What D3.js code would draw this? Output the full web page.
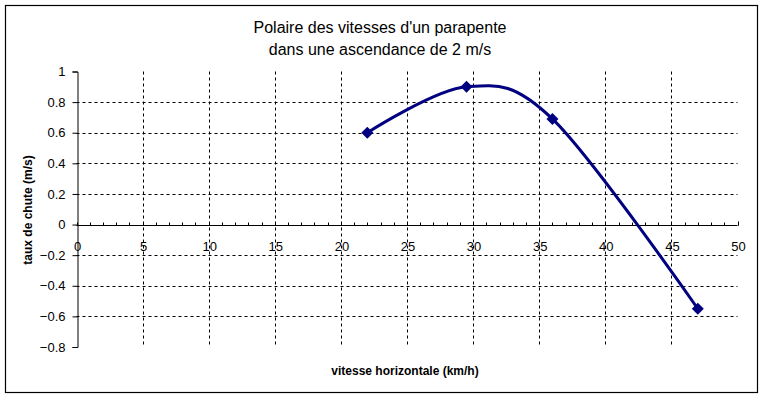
<!DOCTYPE html>
<html>
<head>
<meta charset="utf-8">
<script src="https://cdn.jsdelivr.net/npm/d3@7"></script>
<style>
  body { margin: 0; background: #fff; }
  text { font-family: "Liberation Sans", Arial, sans-serif; fill: #000; }
</style>
</head>
<body>
<svg id="chart" width="764" height="400"></svg>
<script>
// data
var vitesses = [22, 29.5, 36, 47]
var taux_chute = [0.6, 0.9, 0.69, -0.55]
var x_ticks = [0, 5, 10, 15, 20, 25, 30, 35, 40, 45, 50]
var y_ticks = [-0.8, -0.6, -0.4, -0.2, 0, 0.2, 0.4, 0.6, 0.8, 1]
var titre = ["Polaire des vitesses d'un parapente", "dans une ascendance de 2 m/s"]
var titre_x = "vitesse horizontale (km/h)"
var titre_y = "taux de chute (m/s)"

var svg = d3.select("#chart")

// outer frame
svg.append("rect")
    .attr("x", 5.5).attr("y", 5.5)
    .attr("width", 752).attr("height", 387)
    .attr("fill", "#fff").attr("stroke", "#000").attr("stroke-width", 1.2)

var x = d3.scaleLinear().domain([0, 50]).range([76.5, 737.5])
var y = d3.scaleLinear().domain([-0.8, 1]).range([347, 71.5])

var g_grid = svg.append("g")

// vertical gridlines (5..45)
g_grid.selectAll(".vg")
    .data(x_ticks.filter(function(d){ return d > 0 && d < 50 }))
    .enter().append("line")
    .attr("class", "vg")
    .attr("x1", function(d){ return Math.round(x(d)) + 0.5 })
    .attr("x2", function(d){ return Math.round(x(d)) + 0.5 })
    .attr("y1", y(1)).attr("y2", y(-0.8))
    .attr("stroke", "#000").attr("stroke-dasharray", "3,3")

// horizontal gridlines
g_grid.selectAll(".hg")
    .data(y_ticks.filter(function(d){ return d > -0.8 && d < 1 && d != 0 }))
    .enter().append("line")
    .attr("class", "hg")
    .attr("x1", x(0)).attr("x2", x(50))
    .attr("y1", function(d){ return Math.round(y(d)) + 0.5 })
    .attr("y2", function(d){ return Math.round(y(d)) + 0.5 })
    .attr("stroke", "#000").attr("stroke-dasharray", "3,3")

// y axis
var y_axis = d3.axisLeft(y).tickValues(y_ticks).tickSize(5).tickPadding(7)
    .tickFormat(function(d){ return d3.format("")(+d.toFixed(1)) })
var gy = svg.append("g")
    .attr("transform", "translate(" + (Math.round(x(0)) + 0.5) + ",0)")
    .call(y_axis)
gy.select(".domain").attr("stroke", "#000")
gy.selectAll("text").attr("font-size", 13).attr("font-family", "Liberation Sans, Arial, sans-serif")

// x axis crossing at y = 0
var y0 = Math.round(y(0)) + 0.5
var minor = d3.range(0, 51, 1)
svg.append("g").selectAll("line")
    .data(minor)
    .enter().append("line")
    .attr("x1", function(d){ return Math.round(x(d)) + 0.5 })
    .attr("x2", function(d){ return Math.round(x(d)) + 0.5 })
    .attr("y1", y0).attr("y2", y0 - 3)
    .attr("stroke", "#000")
svg.append("line")
    .attr("x1", x(0)).attr("x2", x(50))
    .attr("y1", y0).attr("y2", y0)
    .attr("stroke", "#000")
svg.append("line")
    .attr("x1", Math.round(x(50)) + 0.5).attr("x2", Math.round(x(50)) + 0.5)
    .attr("y1", y0 - 4).attr("y2", y0)
    .attr("stroke", "#000")

svg.append("g").selectAll("text")
    .data(x_ticks)
    .enter().append("text")
    .attr("x", function(d){ return x(d) + 1 })
    .attr("y", y0 + 25)
    .attr("text-anchor", "middle")
    .attr("font-size", 13)
    .text(function(d){ return d })

// curve
var line = d3.line()
    .x(function(d){ return x(d[0]) })
    .y(function(d){ return y(d[1]) })
    .curve(d3.curveCardinal.tension(0))

var points = d3.zip(vitesses, taux_chute)

svg.append("path")
    .datum(points)
    .attr("d", line)
    .attr("fill", "none")
    .attr("stroke", "#000080")
    .attr("stroke-width", 3)

svg.append("g").selectAll("path")
    .data(points)
    .enter().append("path")
    .attr("d", d3.symbol().type(d3.symbolSquare).size(72))
    .attr("transform", function(d){ return "translate(" + x(d[0]) + "," + y(d[1]) + ") rotate(45)" })
    .attr("fill", "#000080")

// titles
svg.append("text")
    .attr("x", 380).attr("y", 33)
    .attr("text-anchor", "middle")
    .attr("font-size", 16)
    .selectAll("tspan")
    .data(titre)
    .enter().append("tspan")
    .attr("x", 380)
    .attr("dy", function(d, i){ return i == 0 ? 0 : 22 })
    .text(function(d){ return d })

svg.append("text")
    .attr("x", 405).attr("y", 375)
    .attr("text-anchor", "middle")
    .attr("font-size", 12).attr("font-weight", "bold")
    .text(titre_x)

svg.append("text")
    .attr("transform", "translate(32,210) rotate(-90)")
    .attr("text-anchor", "middle")
    .attr("font-size", 12).attr("font-weight", "bold")
    .text(titre_y)
</script>
</body>
</html>
